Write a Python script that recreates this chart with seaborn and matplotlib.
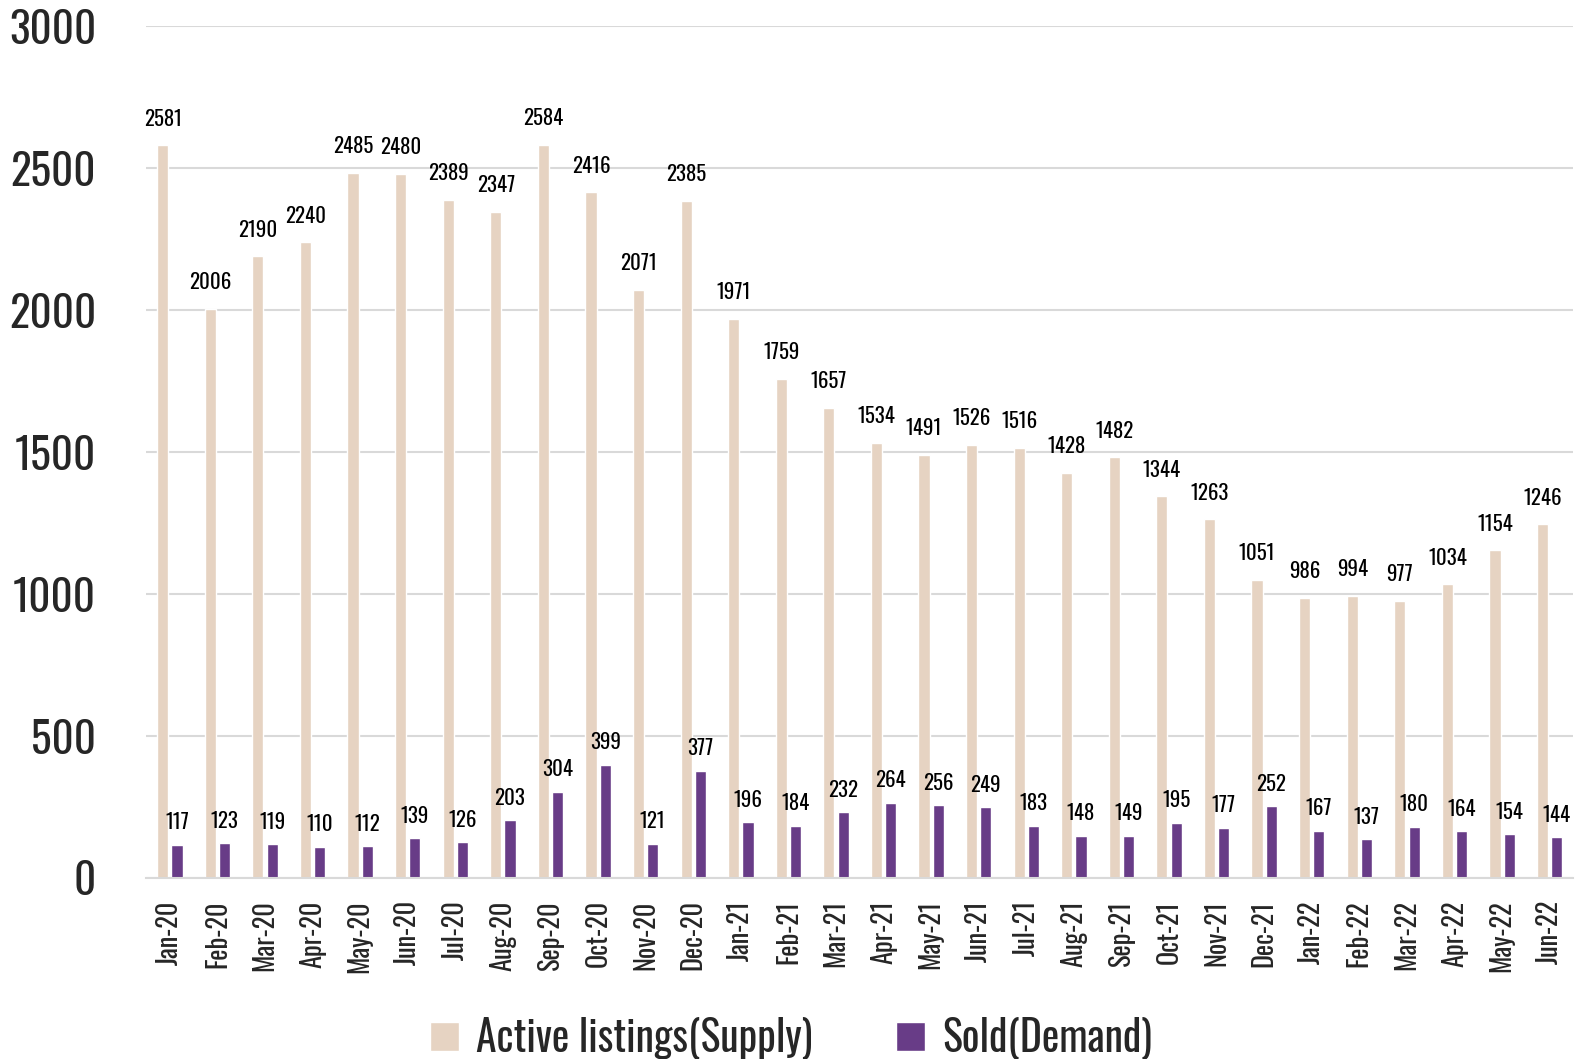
import matplotlib
matplotlib.use("Agg")
import matplotlib.pyplot as plt
import seaborn as sns
import pandas as pd

months = ["Jan-20", "Feb-20", "Mar-20", "Apr-20", "May-20", "Jun-20", "Jul-20", "Aug-20",
          "Sep-20", "Oct-20", "Nov-20", "Dec-20", "Jan-21", "Feb-21", "Mar-21", "Apr-21",
          "May-21", "Jun-21", "Jul-21", "Aug-21", "Sep-21", "Oct-21", "Nov-21", "Dec-21",
          "Jan-22", "Feb-22", "Mar-22", "Apr-22", "May-22", "Jun-22"]
supply = [2581, 2006, 2190, 2240, 2485, 2480, 2389, 2347, 2584, 2416, 2071, 2385, 1971, 1759,
          1657, 1534, 1491, 1526, 1516, 1428, 1482, 1344, 1263, 1051, 986, 994, 977, 1034,
          1154, 1246]
sold = [117, 123, 119, 110, 112, 139, 126, 203, 304, 399, 121, 377, 196, 184, 232, 264, 256,
        249, 183, 148, 149, 195, 177, 252, 167, 137, 180, 164, 154, 144]
series = ["Active listings(Supply)", "Sold(Demand)"]
colors = ["#E6D3C2", "#683C87"]
yticks = [0, 500, 1000, 1500, 2000, 2500, 3000]

df = pd.DataFrame({
    "month": months * 2,
    "value": supply + sold,
    "series": [series[0]] * len(months) + [series[1]] * len(months),
})

sns.set_style("white")
plt.rcParams["font.family"] = ["Oswald", "Roboto Condensed", "DejaVu Sans"]
plt.rcParams["font.weight"] = 500

fig = plt.figure(figsize=(15.79, 10.59), dpi=100)
ax = fig.add_axes([0.0925, 0.171, 0.904, 0.804])
sns.barplot(data=df, x="month", y="value", hue="series", palette=colors,
            width=0.6, gap=0.22, ax=ax, saturation=1, legend=True)

# data labels
for cont, pad in zip(ax.containers, [12, 9]):
    ax.bar_label(cont, padding=pad, fontsize=15, color="black")

ax.set_ylim(0, 3000)
ax.set_xlim(-0.5, len(months) - 0.5)
ax.set_yticks(yticks)
ax.grid(axis="y", color="#D9D9D9", linewidth=1.5)
ax.set_axisbelow(True)
for s in ["left", "right", "top"]:
    ax.spines[s].set_visible(False)
ax.spines["bottom"].set_color("#D9D9D9")
ax.spines["bottom"].set_linewidth(1.5)
ax.tick_params(axis="y", length=0, pad=36, labelsize=31)
ax.tick_params(axis="x", length=0, pad=16, labelsize=19, rotation=90)
ax.set_xlabel("")
ax.set_ylabel("")

handles, labels = ax.get_legend_handles_labels()
ax.get_legend().remove()
fig.legend(handles, labels, loc="center", bbox_to_anchor=(0.501, 0.02), ncol=2,
           frameon=False, fontsize=30, handlelength=0.7, handleheight=0.7,
           handletextpad=0.4, columnspacing=2.0)

fig.savefig("out.png", dpi=100)
